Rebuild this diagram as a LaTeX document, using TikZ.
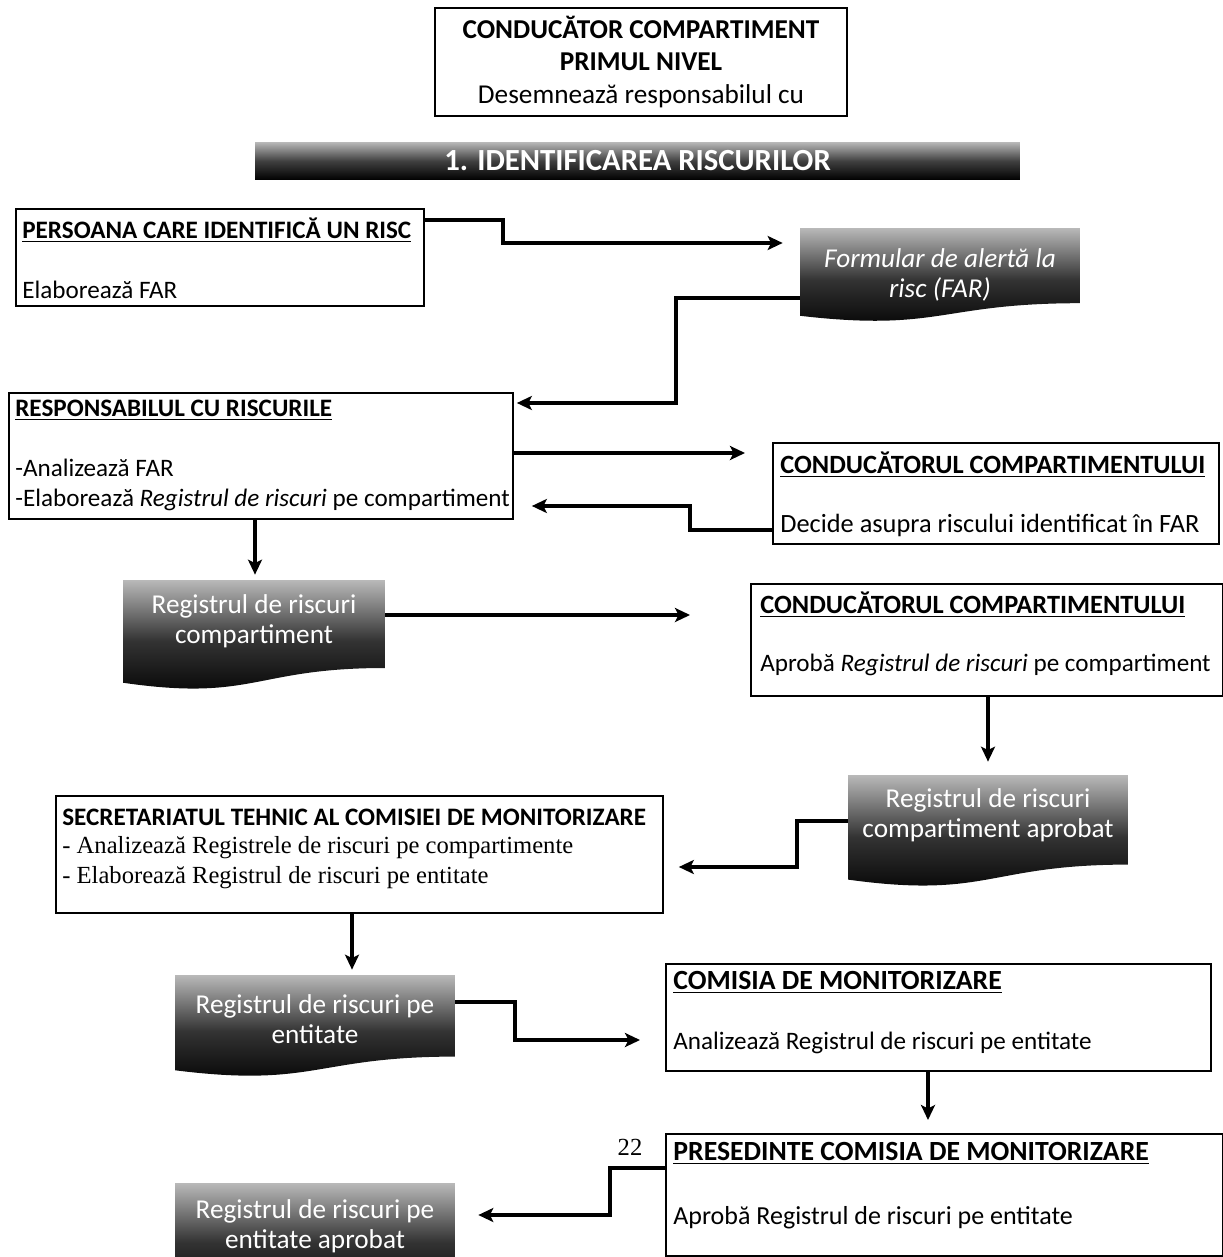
\documentclass[tikz,border=0pt]{standalone}
\usepackage{fontspec}
\setmainfont{Carlito}
\newfontfamily\tnr{Liberation Serif}
\usetikzlibrary{arrows.meta,calc}
\tikzset{
  fbox/.style={draw,line width=1.1pt,anchor=north west,inner sep=0pt},
  ftitle/.style={anchor=west,inner sep=0pt,font=\fontsize{#1}{17}\selectfont\bfseries},
  ftitle/.default=14.3,
  ftext/.style={anchor=west,inner sep=0pt,font=\fontsize{#1}{17}\selectfont},
  ftext/.default=14.3,
  fserif/.style={anchor=west,inner sep=0pt,font=\fontsize{14}{17}\selectfont\tnr},
  fdoc/.style={inner sep=0pt,align=center,text=white,font=\fontsize{15.5}{17}\selectfont,
    path picture={
      \shade[top color=gray!55,bottom color=black,middle color=black!80]
        let \p1=(path picture bounding box.south west),
            \p2=(path picture bounding box.north east)
        in (\x1,\y2) -- (\x2,\y2) -- (\x2,{\y2-0.80*(\y2-\y1)})
        .. controls ({0.5*(\x1+\x2)},{\y2-0.80*(\y2-\y1)}) and ({0.5*(\x1+\x2)},{\y2-1.107*(\y2-\y1)})
        .. (\x1,{\y2-0.934*(\y2-\y1)}) -- cycle;}},
  fbanner/.style={top color=gray!55,bottom color=black,middle color=black!75,inner sep=0pt,
    text=white,font=\fontsize{17.5}{20}\selectfont\bfseries},
  farr/.style={line width=1.8pt,-{Stealth[length=3mm,width=2.8mm,inset=0.7mm]}},
}

\begin{document}
\begin{tikzpicture}[x=0.02cm,y=-0.02cm]
\useasboundingbox (0,0) rectangle (1223,1257);
%% header box and banner
\node[fbox,anchor=center,align=center,minimum width=8.24cm,minimum height=2.16cm,
  font=\fontsize{15.5}{18.7}\selectfont] (sef) at (641,62)
  {\textbf{CONDUCĂTOR COMPARTIMENT}\\\textbf{PRIMUL NIVEL}\\Desemnează responsabilul cu};
\node[fbanner,minimum width=15.3cm,minimum height=0.76cm] (banner) at (637.5,161)
  {1. IDENTIFICAREA RISCURILOR};
%% boxes (top left corner at the px position)
\node[fbox,minimum width=8.16cm,minimum height=1.94cm] (persoana) at (15,208) {};
\node[fbox,minimum width=10.08cm,minimum height=2.52cm] (resp) at (8,392) {};
\node[fbox,minimum width=8.92cm,minimum height=2.02cm] (cond1) at (772,442) {};
\node[fbox,minimum width=9.44cm,minimum height=2.24cm] (cond2) at (750,583) {};
\node[fbox,minimum width=12.14cm,minimum height=2.34cm] (secret) at (55,795) {};
\node[fbox,minimum width=10.9cm,minimum height=2.14cm] (comisia) at (665,963) {};
\node[fbox,minimum width=11.14cm,minimum height=2.44cm] (presed) at (665,1133) {};
% box texts
\node[ftitle] (persoanaT) at (22,230) {\underline{PERSOANA CARE IDENTIFICĂ UN RISC}};
\node[ftext] (persoanaA) at (22,290) {Elaborează FAR};
\node[ftitle] (respT) at (15,410) {\underline{RESPONSABILUL CU RISCURILE}};
\node[ftext] (respA) at (15,468) {-Analizează FAR};
\node[ftext] (respB) at (15,500) {-Elaborează \textit{Registrul de riscuri} pe compartiment};
\node[ftitle=15] (cond1T) at (780,465) {\underline{CONDUCĂTORUL COMPARTIMENTULUI}};
\node[ftext=15] (cond1A) at (780,525) {Decide asupra riscului identificat în FAR};
\node[ftitle=15] (cond2T) at (760,605) {\underline{CONDUCĂTORUL COMPARTIMENTULUI}};
\node[ftext] (cond2A) at (760,665) {Aprobă \textit{Registrul de riscuri} pe compartiment};
\node[ftitle] (secretT) at (62,817) {SECRETARIATUL TEHNIC AL COMISIEI DE MONITORIZARE};
\node[fserif] (secretA) at (62,848) {- Analizează Registrele de riscuri pe compartimente};
\node[fserif] (secretB) at (62,878) {- Elaborează Registrul de riscuri pe entitate};
\node[ftitle=15.8] (comisiaT) at (673,982) {\underline{COMISIA DE MONITORIZARE}};
\node[ftext] (comisiaA) at (673,1043) {Analizează Registrul de riscuri pe entitate};
\node[ftitle=15.8] (presedT) at (673,1153) {\underline{PRESEDINTE COMISIA DE MONITORIZARE}};
\node[ftext=14.8] (presedA) at (673,1218) {Aprobă Registrul de riscuri pe entitate};
\node[fserif,anchor=center] (pagenum) at (630,1147) {22};
%% documents (wavy bottom)
\node[fdoc,minimum width=5.6cm,minimum height=1.88cm,
  font=\fontsize{15.5}{17}\selectfont\itshape] (far) at (940,275) {Formular de alertă la\\risc (FAR)};
\node[fdoc,minimum width=5.24cm,minimum height=2.2cm,text depth=18pt] (doc1) at (254,635)
  {Registrul de riscuri\\compartiment};
\node[fdoc,minimum width=5.6cm,minimum height=2.24cm,text depth=20pt] (doc3) at (988,831)
  {Registrul de riscuri\\compartiment aprobat};
\node[fdoc,minimum width=5.6cm,minimum height=2.04cm,text depth=8pt] (doc4) at (315,1026)
  {Registrul de riscuri pe\\entitate};
\node[fdoc,minimum width=5.6cm,minimum height=2.14cm,text depth=14pt] (doc5) at (315,1236.5)
  {Registrul de riscuri pe\\entitate aprobat};
%% connectors
\draw[farr,shorten >=0.34cm] (persoana.east |- 0,220) -| (503,243) -- (far.west |- 0,243);
\draw[farr,shorten >=0.06cm] (far.west |- 0,298) -| (676,403) -- (resp.east |- 0,403);
\draw[farr,shorten >=0.54cm] (resp.east |- 0,453) -- (cond1.west |- 0,453);
\draw[farr,shorten >=0.36cm] (cond1.west |- 0,530) -| (690,506) -- (resp.east |- 0,506);
\draw[farr,shorten >=0.1cm] (resp.south -| 255,0) -- (doc1.north -| 255,0);
\draw[farr,shorten >=1.2cm] (doc1.east |- 0,615) -- (cond2.west |- 0,615);
\draw[farr,shorten >=0.26cm] (cond2.south -| 988,0) -- (doc3.north -| 988,0);
\draw[farr,shorten >=0.3cm] (doc3.west |- 0,821) -| (797,867) -- (secret.east |- 0,867);
\draw[farr,shorten >=0.1cm] (secret.south -| 352,0) -- (doc4.north -| 352,0);
\draw[farr,shorten >=0.5cm] (doc4.east |- 0,1002) -| (515,1040) -- (comisia.west |- 0,1040);
\draw[farr,shorten >=0.26cm] (comisia.south -| 928,0) -- (presed.north -| 928,0);
\draw[farr,shorten >=0.46cm] (presed.west |- 0,1168) -| (610,1215) -- (doc5.east |- 0,1215);
\end{tikzpicture}
\end{document}
